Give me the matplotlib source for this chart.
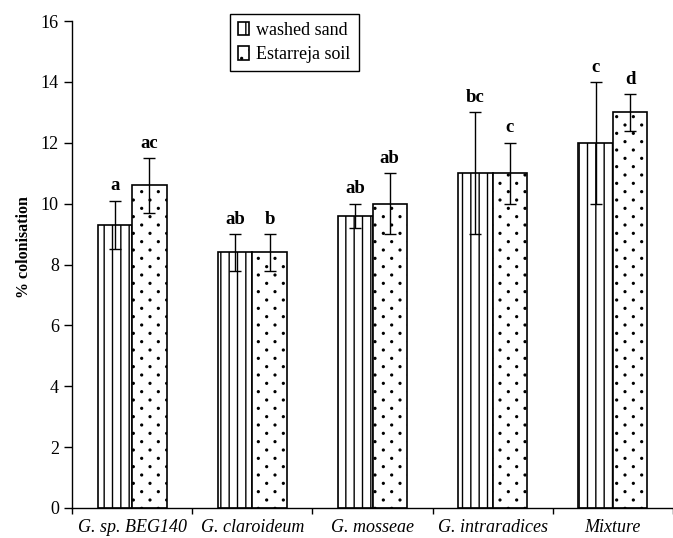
import numpy as np
import matplotlib
matplotlib.use('Agg')
import matplotlib.pyplot as plt
import matplotlib.hatch as mhatch
from matplotlib.path import Path

# ---------------- data ----------------
categories = ["G. sp. BEG140", "G. claroideum", "G. mosseae", "G. intraradices", "Mixture"]
washed_sand = [9.3, 8.4, 9.6, 11.0, 12.0]
washed_sand_err = [0.8, 0.6, 0.4, 2.0, 2.0]
estarreja_soil = [10.6, 8.4, 10.0, 11.0, 13.0]
estarreja_soil_err = [0.9, 0.6, 1.0, 1.0, 0.6]
washed_letters = ["a", "ab", "ab", "bc", "c"]
soil_letters = ["ac", "b", "ab", "c", "d"]
y_ticks = [0, 2, 4, 6, 8, 10, 12, 14, 16]


# ------------- staggered dot hatch (anisotropic) -------------
class DotHatch(mhatch.HatchPatternBase):
    NCOLS = 6
    NROWS = 12
    R = 0.009

    def __init__(self, hatch, density):
        self.centers = []
        if hatch.count('.') > 0:
            for row in range(self.NROWS + 1):
                y = row / self.NROWS
                if row % 2 == 0:
                    xs = np.linspace(0, 1, self.NCOLS + 1)
                else:
                    xs = (np.arange(self.NCOLS) + 0.5) / self.NCOLS
                for x in xs:
                    self.centers.append((x, y))
        circ = Path.unit_circle()
        self.cv = circ.vertices
        self.cc = circ.codes
        self.num_vertices = len(self.centers) * len(self.cv)

    def set_vertices_and_codes(self, vertices, codes):
        n = len(self.cv)
        for i, (x, y) in enumerate(self.centers):
            vertices[i * n:(i + 1) * n] = self.cv * self.R + np.array([x, y])
            codes[i * n:(i + 1) * n] = self.cc


mhatch._hatch_types = [DotHatch if t is mhatch.SmallFilledCircles else t
                       for t in mhatch._hatch_types]

plt.rcParams['font.family'] = ['Liberation Serif', 'DejaVu Serif']
plt.rcParams['hatch.linewidth'] = 1.0
plt.rcParams['hatch.color'] = 'black'

fig = plt.figure(figsize=(6.73, 5.38), dpi=100)
ax = fig.add_axes([72 / 673, 30 / 538, (673 - 72) / 673, (508 - 21) / 538])

x = np.arange(len(categories)) + 0.5
w = 0.287

b1 = ax.bar(x - w / 2, washed_sand, w, color='white', edgecolor='black',
            hatch='||', linewidth=1.2, label='washed sand', zorder=2)
b2 = ax.bar(x + w / 2, estarreja_soil, w, color='white', edgecolor='black',
            hatch='.', linewidth=1.2, label='Estarreja soil', zorder=2)

ax.errorbar(x - w / 2, washed_sand, yerr=washed_sand_err, fmt='none',
            ecolor='black', elinewidth=1.0, capsize=4.3, capthick=1.0, zorder=3)
ax.errorbar(x + w / 2, estarreja_soil, yerr=estarreja_soil_err, fmt='none',
            ecolor='black', elinewidth=1.0, capsize=4.3, capthick=1.0, zorder=3)

for xi, v, e, t in zip(x - w / 2, washed_sand, washed_sand_err, washed_letters):
    ax.annotate(t, (xi, v + e), xytext=(0, 4.5), textcoords='offset points',
                ha='center', va='bottom', fontweight='bold', fontsize=13.5)
for xi, v, e, t in zip(x + w / 2, estarreja_soil, estarreja_soil_err, soil_letters):
    ax.annotate(t, (xi, v + e), xytext=(0, 4.5), textcoords='offset points',
                ha='center', va='bottom', fontweight='bold', fontsize=13.5)

ax.set_xlim(0, len(categories))
ax.set_ylim(0, 16)
ax.set_yticks(y_ticks)
ax.set_yticklabels([str(v) for v in y_ticks], fontsize=13)
ax.tick_params(axis='y', direction='out', length=5.5, width=1.0, pad=4)

ax.set_xticks(np.arange(len(categories) + 1))
ax.set_xticklabels([])
ax.tick_params(axis='x', which='major', direction='out', length=4, width=1.0)
ax.set_xticks(x, minor=True)
ax.set_xticklabels(categories, minor=True, fontsize=13, style='italic')
ax.tick_params(axis='x', which='minor', length=0, pad=8)

for s in ['top', 'right']:
    ax.spines[s].set_visible(False)
for s in ['left', 'bottom']:
    ax.spines[s].set_linewidth(1.0)

ax.set_ylabel('% colonisation', fontsize=11.5, fontweight='bold')
ax.yaxis.set_label_coords(-0.066, (508 - 247) / 487)

leg = ax.legend(loc='upper left', bbox_to_anchor=(230 / 673, 1 - 14 / 538),
                bbox_transform=fig.transFigure, borderaxespad=0,
                fancybox=False, edgecolor='black', framealpha=1,
                prop={'size': 13}, handlelength=0.6, handleheight=0.75,
                handletextpad=0.4, borderpad=0.45, labelspacing=0.4)
leg.get_frame().set_linewidth(1.0)

fig.savefig('out.png', dpi=100)
